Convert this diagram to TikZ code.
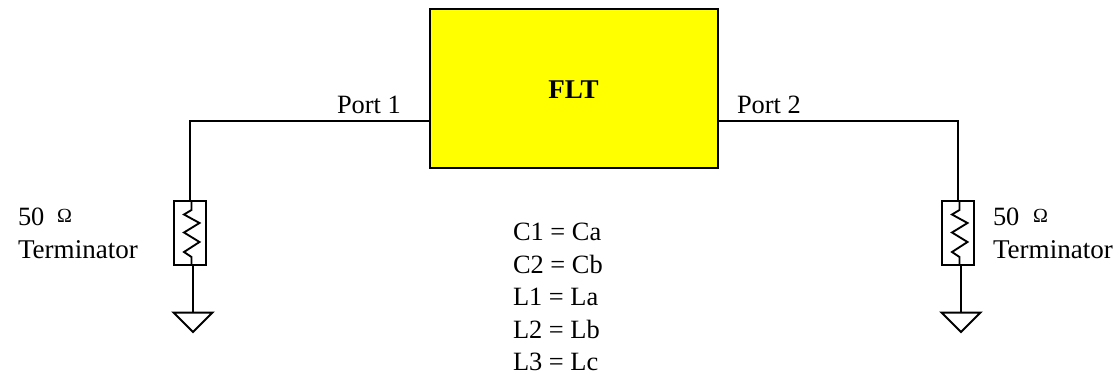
\documentclass[tikz,border=0pt]{standalone}
\usepackage{fontspec}
\setmainfont{Liberation Serif}
\definecolor{fltyellow}{RGB}{255,255,0}
\tikzset{
  wire/.style={draw=black,line width=1.5pt,line join=miter},
  thin wire/.style={draw=black,line width=1.4pt,line join=miter},
  lbl/.style={inner sep=0pt,outer sep=0pt,font=\fontsize{19.8pt}{24pt}\selectfont,anchor=base west},
  termlbl/.style={lbl,font=\fontsize{20.3pt}{24pt}\selectfont},
  omega/.style={inner sep=0pt,outer sep=0pt,font=\fontsize{15pt}{18pt}\selectfont,anchor=base west},
  res/.style={draw=black,line width=1.5pt,minimum width=24pt,minimum height=48pt,inner sep=0pt,outer sep=0pt},
  fltbox/.style={draw=black,fill=fltyellow,line width=1.5pt,inner sep=0pt,outer sep=0pt,minimum width=216pt,minimum height=119.25pt}
}
\begin{document}
\begin{tikzpicture}[x=0.75pt,y=-0.75pt]
\useasboundingbox (0,0) rectangle (1120,374);
% filter
\node[fltbox] (flt) at (574,88.5) {};
\node[inner sep=0pt,font=\fontsize{20.3pt}{24pt}\selectfont\bfseries,anchor=base] (fltt) at (573.5,99) {FLT};
% resistors
\node[res] (r1) at (190,233) {};
\node[res] (r2) at (958,233) {};
\coordinate (c1) at (190,121);
\coordinate (c2) at (958,121);
\draw[wire] (flt.west |- c1) -- (c1) -- (r1.north);
\draw[wire] (flt.east |- c2) -- (c2) -- (r2.north);
% zigzags
\foreach \n/\x in {r1/191.5,r2/959.5}{
  \draw[thin wire] (\n.north -| \x,0) -- (\x,210) -- (\x-7.5,214.5) -- (\x+8,223) -- (\x-7.5,232.5) -- (\x+8,242) -- (\x-7.5,252) -- (\x,257) -- (\n.south -| \x,0);
}
% ground
\coordinate (g1) at (193,312.5);
\coordinate (g2) at (961,312.5);
\draw[wire] (g1 |- r1.south) -- (g1);
\draw[wire] (g2 |- r2.south) -- (g2);
\draw[wire] (173.5,312.5) -- (212.5,312.5) -- (193,332) -- cycle;
\draw[wire] (941.5,312.5) -- (980.5,312.5) -- (961,332) -- cycle;
% labels
\node[lbl] (p1) at (337,113.5) {Port 1};
\node[lbl] (p2) at (737,113.5) {Port 2};
\node[lbl] (a1) at (18,225.5) {50};
\node[omega] (o1) at (57,222.5) {Ω};
\node[termlbl] (t1) at (18,258) {Terminator};
\node[lbl] (a2) at (993,225.5) {50};
\node[omega] (o2) at (1033,222.5) {Ω};
\node[termlbl] (t2) at (993,258) {Terminator};
\node[lbl] (e1) at (513,240.5) {C1 = Ca};
\node[lbl] (e2) at (513,273) {C2 = Cb};
\node[lbl] (e3) at (513,305.5) {L1 = La};
\node[lbl] (e4) at (513,338) {L2 = Lb};
\node[lbl] (e5) at (513,370) {L3 = Lc};
\end{tikzpicture}
\end{document}
